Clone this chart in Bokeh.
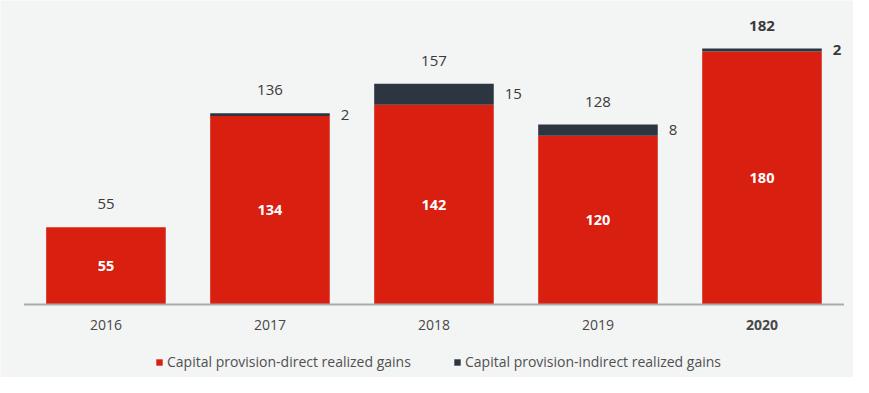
from bokeh.plotting import figure
from bokeh.models import ColumnDataSource, Legend, LegendItem, Range1d
from bokeh.core.properties import value
from bokeh.embed import file_html
from bokeh.resources import INLINE

years = ["2016", "2017", "2018", "2019", "2020"]
direct = [55, 134, 142, 120, 180]
indirect = [0, 2, 15, 8, 2]
series_names = ["Capital provision-direct realized gains", "Capital provision-indirect realized gains"]

RED = "#d81f10"
DARK = "#2b3640"
BG = "#f3f4f4"
TXT = "#3a3a3a"
FONT = "Open Sans"

xs = list(range(len(years)))
totals = [d + i for d, i in zip(direct, indirect)]
bar_w = 0.729
emph = ["bold" if y == "2020" else "normal" for y in years]

src = ColumnDataSource(dict(
    x=xs, direct=direct, total=totals,
    direct_mid=[d / 2 for d in direct],
    direct_lbl=[str(d) for d in direct],
    total_lbl=[str(t) for t in totals],
    year=years, zero=[0] * len(years), emph=emph,
))

# frame covers the whole canvas; the area below 0 holds the year labels and legend
p = figure(width=853, height=377, output_backend="svg", toolbar_location=None,
           x_range=Range1d(-0.643, 4.558), y_range=Range1d(-51.9, 216.2),
           min_border=0)
p.background_fill_color = BG
p.border_fill_color = BG
p.outline_line_color = None
p.grid.visible = False
p.axis.visible = False

r_direct = p.vbar(x="x", top="direct", bottom=0, width=bar_w, source=src, color=RED, line_color=None)
r_ind = p.vbar(x="x", top="total", bottom="direct", width=bar_w, source=src, color=DARK, line_color=None)

# baseline axis line
p.segment(x0=[xs[0] - 0.5], y0=[0], x1=[xs[-1] + 0.5], y1=[0], line_color="#aaaaaa", line_width=2)

# inner labels
p.text(x="x", y="direct_mid", text="direct_lbl", source=src, text_color="white",
       text_font=value(FONT), text_font_size="14.5px", text_align="center", text_baseline="middle",
       text_font_style="bold")
# totals
p.text(x="x", y="total", text="total_lbl", source=src, text_color=TXT,
       text_font=value(FONT), text_font_size="15px", text_align="center", text_baseline="middle",
       text_font_style="emph", y_offset=-23)

ind_idx = [k for k, v in enumerate(indirect) if v > 0]
src2 = ColumnDataSource(dict(
    x=[xs[k] + bar_w / 2 for k in ind_idx],
    y=[direct[k] + indirect[k] / 2 for k in ind_idx],
    t=[str(indirect[k]) for k in ind_idx],
    s=[emph[k] for k in ind_idx],
))
p.text(x="x", y="y", text="t", source=src2, text_color=TXT, text_font=value(FONT),
       text_font_size="15px", text_align="left", text_baseline="middle", x_offset=11,
       text_font_style="s")

# year labels
p.text(x="x", y="zero", text="year", source=src, text_color="#484848",
       text_font=value(FONT), text_font_size="14px", text_align="center",
       text_baseline="middle", y_offset=20, text_font_style="emph")

common = dict(orientation="horizontal", background_fill_alpha=0, border_line_color=None,
              label_text_font=FONT, label_text_font_size="14px", label_text_color="#505050",
              glyph_width=8, glyph_height=8, label_standoff=4, padding=0, margin=0,
              label_height=16)
leg1 = Legend(items=[LegendItem(label=series_names[0], renderers=[r_direct])],
              location=(155, 6), **common)
leg2 = Legend(items=[LegendItem(label=series_names[1], renderers=[r_ind])],
              location=(453, 6), **common)
p.add_layout(leg1, "center")
p.add_layout(leg2, "center")

open("out.html", "w").write(file_html(p, INLINE))
